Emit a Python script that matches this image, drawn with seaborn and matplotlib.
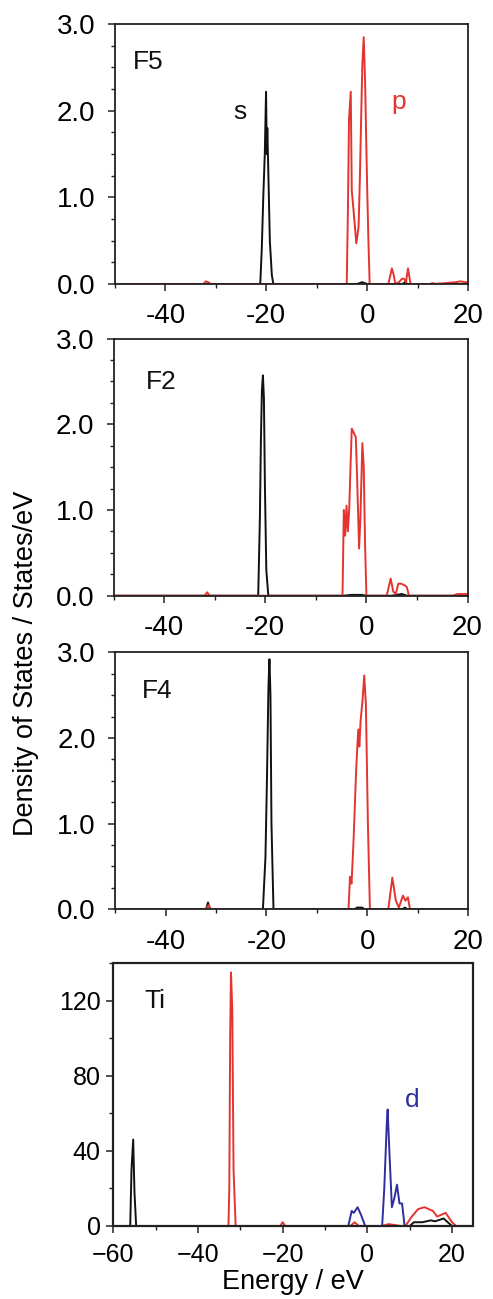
import matplotlib
matplotlib.use("Agg")
import matplotlib.pyplot as plt
import seaborn as sns
from matplotlib.ticker import MultipleLocator
from matplotlib.patches import Rectangle

# ---- data (energy in eV, DOS in states/eV) ----
# F5
f5_s_x = [-50, -21.2, -20.9, -20.6, -20.3, -20.05, -19.9, -19.8, -19.6, -19.3, -18.9, -18.6,
          -2.0, -1.0, 0.0, 7.0, 7.5, 8.0, 20]
f5_s_y = [0, 0, 0.4, 1.0, 1.5, 2.22, 1.5, 1.8, 1.3, 0.5, 0.1, 0,
          0, 0.02, 0, 0, 0.02, 0, 0]
f5_p_x = [-50, -32.5, -32.0, -31.5, -31.0, -4.05, -3.8, -3.6, -3.25, -3.05, -2.7, -2.15, -1.7,
          -1.45, -1.2, -0.95, -0.68, -0.4, -0.2, 0.0, 0.25, 0.5, 4.2, 4.6, 4.9, 5.2, 5.6, 6.3,
          6.9, 7.3, 7.7, 8.1, 8.6, 12.5, 13.0, 13.5, 17.5, 18.5, 19.5, 20]
f5_p_y = [0, 0, 0.03, 0.02, 0, 0, 0.9, 1.9, 2.22, 1.08, 0.85, 0.47, 0.66,
          1.2, 1.89, 2.54, 2.85, 2.32, 1.7, 1.12, 0.5, 0, 0, 0.1, 0.18, 0.12, 0, 0.02,
          0.06, 0.06, 0.02, 0.18, 0, 0, 0.01, 0, 0.02, 0.03, 0.02, 0.02]

# F2
f2_s_x = [-50, -21.4, -21.07, -20.87, -20.67, -20.47, -20.27, -20.08, -19.8, -19.4,
          -4.5, -3.0, -1.0, 0.0, 5.0, 7.0, 8.0, 20]
f2_s_y = [0, 0, 0.9, 1.8, 2.4, 2.57, 2.3, 1.3, 0.3, 0,
          0, 0.01, 0.01, 0, 0, 0.02, 0, 0]
f2_p_x = [-50, -32.0, -31.5, -31.0, -4.73, -4.47, -4.2, -3.94, -3.68, -3.41, -3.15, -2.9,
          -2.5, -2.1, -1.85, -1.45, -1.2, -0.8, -0.53, -0.27, 0.0, 4.0, 4.8, 5.3, 5.8,
          6.3, 6.9, 7.6, 8.0, 8.4, 17.0, 18.0, 20]
f2_p_y = [0, 0, 0.04, 0, 0, 1.0, 0.7, 1.05, 0.75, 1.0, 1.5, 1.95,
          1.9, 1.85, 1.4, 0.55, 0.9, 1.78, 1.5, 0.6, 0, 0, 0.2, 0.05, 0.02,
          0.14, 0.14, 0.12, 0.1, 0, 0, 0.02, 0.02]

# F4
f4_s_x = [-50, -32.0, -31.6, -31.2, -20.7, -20.2, -19.9, -19.6, -19.4, -19.2, -19.0, -18.6,
          -2.5, -2.0, -1.0, -0.5, 7.0, 7.5, 8.0, 20]
f4_s_y = [0, 0, 0.08, 0, 0, 0.6, 1.5, 2.6, 2.92, 2.5, 1.0, 0,
          0, 0.02, 0.02, 0, 0, 0.02, 0, 0]
f4_p_x = [-50, -32.0, -31.5, -31.0, -3.7, -3.4, -3.1, -2.7, -2.2, -1.95, -1.75, -1.55, -1.3,
          -0.9, -0.58, -0.25, 0.15, 0.55, 4.2, 5.0, 5.7, 6.3, 7.1, 7.6, 8.1, 8.5, 20]
f4_p_y = [0, 0, 0.05, 0, 0, 0.38, 0.3, 0.8, 1.6, 1.9, 2.1, 1.9, 2.2,
          2.45, 2.73, 2.4, 1.0, 0, 0, 0.37, 0.1, 0.02, 0.16, 0.1, 0.14, 0, 0]

# Ti
ti_s_x = [-60, -56.0, -55.7, -55.3, -55.0, -54.6, 10.0, 11.0, 13.0, 15.0, 16.0, 18.0, 18.5, 20.0, 21]
ti_s_y = [0, 0, 30, 46, 18, 0, 0, 2, 2, 3, 2.5, 4, 3, 0, 0]
ti_p_x = [-60, -32.8, -32.6, -32.4, -32.2, -31.9, -31.6, -31.1, -20.6, -20.0, -19.4,
          -4.0, -3.0, -2.0, 3.5, 5.0, 8.0, 9.0, 10.5, 12.0, 13.5, 15.5, 16.5, 18.5, 20.0, 21]
ti_p_y = [0, 0, 20, 100, 135, 115, 30, 0, 0, 2, 0,
          0, 2, 0, 0, 1, 0, 0, 5, 9, 10, 8, 5, 7, 2, 0]
ti_d_x = [-60, -4.5, -3.7, -3.2, -2.3, -1.5, -0.5, 3.5, 4.0, 4.6, 4.8, 5.2, 5.8, 6.4,
          7.0, 7.6, 8.2, 8.8, 21]
ti_d_y = [0, 0, 8, 7, 10, 6, 0, 0, 20, 55, 62, 40, 10, 15,
          22, 12, 12, 0, 0]

RED = "#e3342f"
BLUE = "#2e2e9e"
BLACK = "#111111"
FRAME = "#222222"
LW = 1.4

sns.set_style("ticks")
plt.rcParams["font.family"] = ["Liberation Sans", "DejaVu Sans"]
plt.rcParams["text.color"] = "black"
plt.rcParams["xtick.labelcolor"] = "black"
plt.rcParams["ytick.labelcolor"] = "black"
plt.rcParams["axes.labelcolor"] = "black"

fig = plt.figure(figsize=(4.93, 12.99), dpi=100)

f_axes = [
    fig.add_axes([0.2333, 0.7814, 0.716, 0.200]),
    fig.add_axes([0.2304, 0.5414, 0.718, 0.198]),
    fig.add_axes([0.2340, 0.3000, 0.715, 0.1978]),
]
ax_ti = fig.add_axes([0.2298, 0.0562, 0.730, 0.2025])

f_data = [
    ("F5", f5_s_x, f5_s_y, f5_p_x, f5_p_y, (0.093, 0.854)),
    ("F2", f2_s_x, f2_s_y, f2_p_x, f2_p_y, (0.136, 0.83)),
    ("F4", f4_s_x, f4_s_y, f4_p_x, f4_p_y, (0.12, 0.85)),
]


def style_axes(ax):
    for side in ["left", "right", "top", "bottom"]:
        ax.spines[side].set_visible(True)
        ax.spines[side].set_linewidth(1.3)
        ax.spines[side].set_color(FRAME)
        ax.spines[side].set_zorder(5)
    ax.tick_params(which="major", direction="out", length=5, width=1.1, color=FRAME)
    ax.tick_params(which="minor", direction="out", length=3, width=1.0, color=FRAME)


for ax, (name, sx, sy, px, py, lab) in zip(f_axes, f_data):
    sns.lineplot(x=sx, y=sy, ax=ax, color=BLACK, linewidth=LW, estimator=None, sort=False)
    sns.lineplot(x=px, y=py, ax=ax, color=RED, linewidth=LW, estimator=None, sort=False)
    ax.set_xlim(-50, 20)
    ax.set_ylim(0, 3.0)
    ax.set_xticks([-40, -20, 0, 20])
    ax.set_xticklabels(["-40", "-20", "0", "20"])
    ax.set_yticks([0, 1, 2, 3])
    ax.set_yticklabels(["0.0", "1.0", "2.0", "3.0"])
    ax.xaxis.set_minor_locator(MultipleLocator(10))
    ax.yaxis.set_minor_locator(MultipleLocator(0.25))
    ax.tick_params(axis="x", labelsize=20, pad=9)
    ax.tick_params(axis="y", labelsize=20, pad=9)
    style_axes(ax)
    ax.text(lab[0], lab[1], name, transform=ax.transAxes, fontsize=19,
            ha="center", va="center", color=BLACK)
    ax.set_xlabel("")
    ax.set_ylabel("")

f_axes[0].text(-25.2, 1.98, "s", fontsize=19, ha="center", va="center", color=BLACK)
f_axes[0].text(6.2, 2.1, "p", fontsize=19, ha="center", va="center", color=RED)

# Ti panel
sns.lineplot(x=ti_s_x, y=ti_s_y, ax=ax_ti, color=BLACK, linewidth=LW, estimator=None, sort=False)
sns.lineplot(x=ti_p_x, y=ti_p_y, ax=ax_ti, color=RED, linewidth=LW, estimator=None, sort=False)
sns.lineplot(x=ti_d_x, y=ti_d_y, ax=ax_ti, color=BLUE, linewidth=LW, estimator=None, sort=False)
ax_ti.set_xlim(-60, 25)
ax_ti.set_ylim(0, 140)
ax_ti.set_xticks([-60, -40, -20, 0, 20])
ax_ti.set_xticklabels(["\u221260", "\u221240", "\u221220", "0", "20"])
ax_ti.set_yticks([0, 40, 80, 120])
ax_ti.set_yticklabels(["0", "40", "80", "120"])
ax_ti.xaxis.set_minor_locator(MultipleLocator(10))
ax_ti.yaxis.set_minor_locator(MultipleLocator(20))
ax_ti.tick_params(axis="x", labelsize=18, pad=7)
ax_ti.tick_params(axis="y", labelsize=18, pad=4)
style_axes(ax_ti)
# explicit box around the Ti panel
ax_ti.add_patch(Rectangle((0, 0), 1, 1, transform=ax_ti.transAxes, fill=False,
                          edgecolor=FRAME, linewidth=1.6, clip_on=False, zorder=10))
ax_ti.text(0.116, 0.855, "Ti", transform=ax_ti.transAxes, fontsize=19,
           ha="center", va="center", color=BLACK)
ax_ti.text(10.5, 67, "d", fontsize=19, ha="center", va="center", color=BLUE)
ax_ti.set_xlabel("Energy / eV", fontsize=19.5, labelpad=2)
ax_ti.set_ylabel("")

fig.text(0.052, 0.4896, "Density of States / States/eV", rotation=90,
         fontsize=19.5, ha="center", va="center")

fig.savefig("out.png", dpi=100, facecolor="white")
